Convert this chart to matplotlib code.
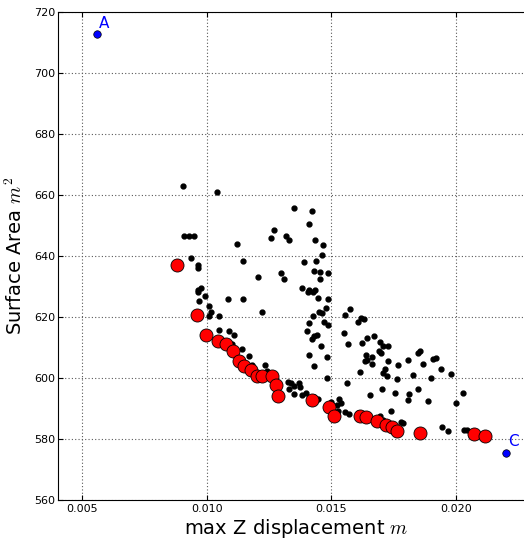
import matplotlib
matplotlib.use('Agg')
import matplotlib.pyplot as plt

plt.rcParams['mathtext.fontset'] = 'cm'

# all evaluated designs
disp = [0.00904, 0.01043, 0.01350, 0.01422, 0.01411, 0.01270, 0.01260, 0.01317, 0.01329, 0.01435,
        0.01468, 0.00909, 0.00929, 0.00951, 0.01122, 0.00937, 0.01463, 0.01147, 0.01440, 0.01391,
        0.00967, 0.00967, 0.01432, 0.01454, 0.01487, 0.01300, 0.01312, 0.01205, 0.01455, 0.00978,
        0.00967, 0.00967, 0.01383, 0.01411, 0.01435, 0.01407, 0.01427, 0.00995, 0.01086, 0.01147,
        0.01448, 0.01488, 0.00971, 0.01008, 0.01480, 0.01018, 0.01221, 0.01452, 0.01463, 0.01427,
        0.01008, 0.01049, 0.01410, 0.01470, 0.01486, 0.01049, 0.01091, 0.01111, 0.01404, 0.01443,
        0.01431, 0.01422, 0.01460, 0.01102, 0.01143, 0.01410, 0.01483, 0.01171, 0.01183, 0.01173,
        0.01236, 0.01244, 0.01432, 0.01483, 0.01325, 0.01339, 0.01352, 0.01372, 0.01374, 0.01329,
        0.01352, 0.01382, 0.01399, 0.01430, 0.01448, 0.01498, 0.01577, 0.01554, 0.01621, 0.01633,
        0.01606, 0.01553, 0.01567, 0.01642, 0.01672, 0.01625, 0.01697, 0.01708, 0.01728, 0.01693,
        0.01855, 0.01640, 0.01663, 0.01636, 0.01645, 0.01665, 0.01699, 0.01727, 0.01768, 0.01809,
        0.01848, 0.01868, 0.01910, 0.01922, 0.01614, 0.01716, 0.01707, 0.01725, 0.01827, 0.01942,
        0.01981, 0.01899, 0.01764, 0.01565, 0.01704, 0.01756, 0.01812, 0.01850, 0.01657, 0.01808,
        0.01890, 0.02029, 0.02000, 0.01530, 0.01538, 0.01522, 0.01529, 0.01557, 0.01571, 0.01608,
        0.01741, 0.01696, 0.01709, 0.01780, 0.01789, 0.01943, 0.01969, 0.02034, 0.02046]
area = [663.0, 661.0, 655.6, 654.6, 650.5, 648.5, 645.9, 646.6, 645.2, 645.1,
        643.7, 646.6, 646.7, 646.4, 643.9, 639.4, 640.2, 638.4, 638.2, 637.9,
        636.9, 636.1, 635.2, 634.6, 634.3, 634.3, 632.5, 633.1, 632.6, 629.5,
        629.0, 628.2, 629.6, 629.0, 628.8, 628.1, 628.1, 626.9, 626.0, 625.9,
        626.1, 625.8, 625.4, 623.7, 622.9, 621.7, 621.8, 621.5, 621.3, 620.4,
        620.2, 620.3, 618.0, 618.3, 617.5, 615.6, 615.4, 614.0, 615.3, 614.2,
        613.7, 612.7, 610.4, 611.1, 609.6, 607.7, 607.0, 607.1, 604.3, 603.8,
        604.1, 602.4, 604.0, 600.0, 598.8, 598.3, 597.4, 598.2, 597.1, 596.5,
        594.6, 594.5, 595.2, 593.7, 593.0, 592.1, 622.6, 620.5, 619.6, 619.2,
        618.2, 614.8, 611.1, 613.2, 613.9, 611.4, 611.9, 610.4, 610.6, 608.7,
        608.7, 607.5, 606.8, 605.6, 606.0, 604.6, 608.3, 605.5, 604.2, 606.0,
        608.1, 604.6, 606.3, 606.7, 602.1, 603.0, 601.7, 600.7, 601.1, 602.8,
        601.4, 600.0, 599.7, 598.5, 596.3, 595.1, 594.8, 596.5, 594.5, 592.8,
        592.6, 595.2, 591.9, 593.1, 591.7, 591.2, 589.3, 588.7, 588.3, 588.4,
        589.2, 587.4, 586.3, 585.7, 585.1, 583.9, 582.7, 583.1, 582.9]

# pareto front
front_disp = [0.00881, 0.00963, 0.00996, 0.01047, 0.01078, 0.01106, 0.01131, 0.01150, 0.01177,
              0.01203, 0.01224, 0.01264, 0.01277, 0.01288, 0.01423, 0.01492, 0.01511, 0.01616,
              0.01640, 0.01683, 0.01720, 0.01743, 0.01765, 0.01856, 0.02073, 0.02116]
front_area = [637.0, 620.8, 614.1, 612.1, 611.1, 608.7, 605.7, 603.8, 602.7,
              600.7, 600.5, 600.5, 597.8, 594.0, 592.8, 590.6, 587.4, 587.6,
              587.1, 586.0, 584.6, 584.0, 582.5, 582.0, 581.7, 581.1]

# extreme designs
ext_names = ['A', 'C']
ext_disp = [0.00561, 0.02201]
ext_area = [712.7, 575.5]

fig = plt.figure(figsize=(5.24, 5.42), dpi=100)
ax = fig.add_axes([58/524., 42/542., 476/524., 488/542.])

ax.plot(disp, area, 'ko', markersize=3.5, zorder=3)
ax.plot(front_disp, front_area, 'o', color='red', markeredgecolor='k',
        markeredgewidth=0.6, markersize=9.4, zorder=4)
ax.plot(ext_disp, ext_area, 'o', color='blue', markeredgecolor='k',
        markeredgewidth=0.5, markersize=5.4, zorder=4)
for n, x, y in zip(ext_names, ext_disp, ext_area):
    ax.annotate(n, (x, y), xytext=(1.5, 4.5), textcoords='offset points',
                color='blue', fontsize=11, va='baseline', ha='left')

ax.set_xlim(0.004037, 0.02314)
ax.set_ylim(560, 720)
ax.set_xticks([0.005, 0.010, 0.015, 0.020])
ax.set_xticklabels(['0.005', '0.010', '0.015', '0.020'])
ax.set_yticks(range(560, 721, 20))
ax.grid(True, color='0.35', linestyle=(0, (1, 2)), linewidth=0.8)
ax.set_axisbelow(True)
ax.tick_params(direction='in', top=True, right=True, length=3.5, labelsize=8)
ax.tick_params(axis='x', pad=3)
ax.tick_params(axis='y', pad=2)

ax.set_xlabel('max Z displacement $m$', fontsize=14, labelpad=2)
ax.set_ylabel('Surface Area $m^2$', fontsize=14, labelpad=6)

fig.savefig('out.png', dpi=100)
